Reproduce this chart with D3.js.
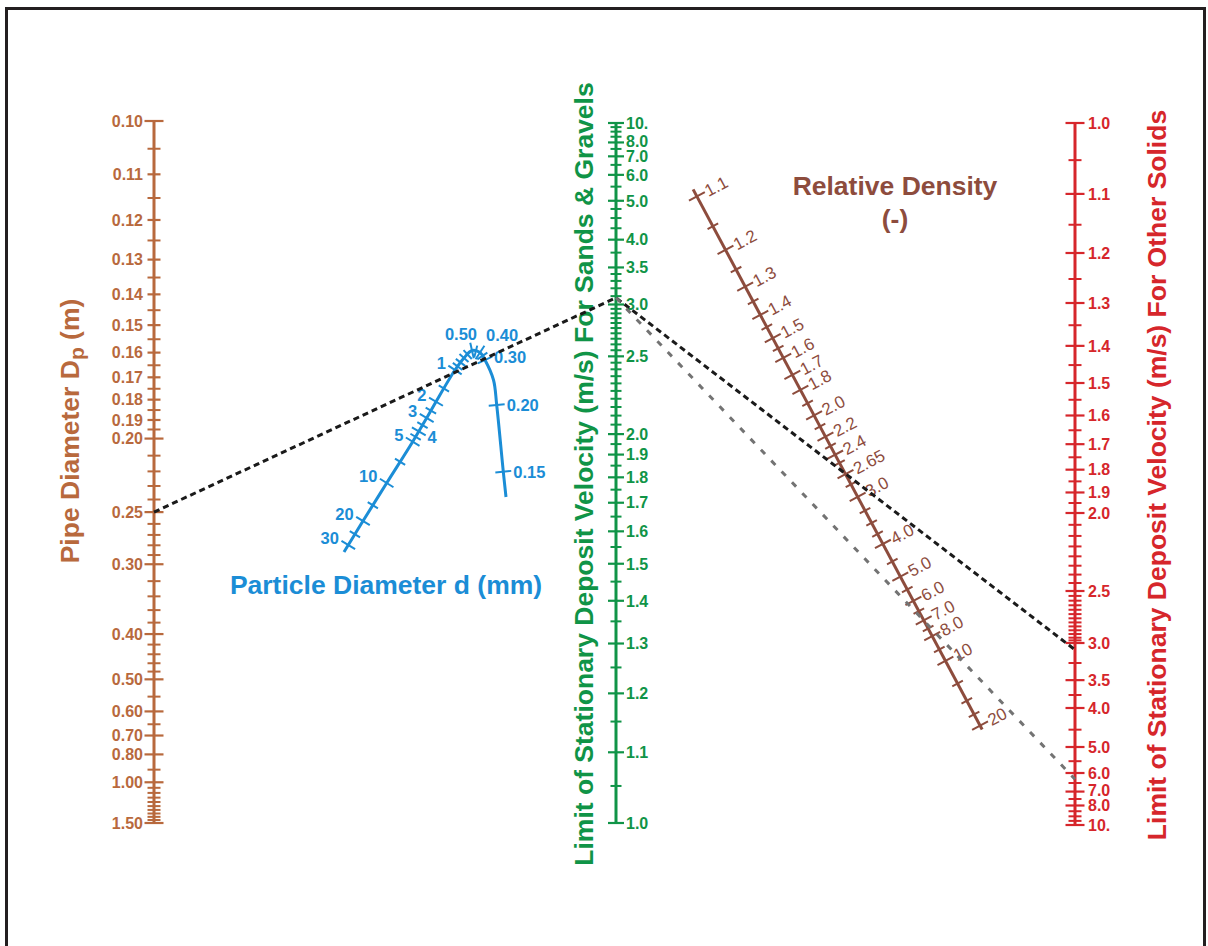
<!DOCTYPE html>
<html>
<head>
<meta charset="utf-8">
<script src="https://cdnjs.cloudflare.com/ajax/libs/d3/7.8.5/d3.min.js"></script>
<style>
  html, body { margin: 0; padding: 0; background: #ffffff; }
  svg { display: block; }
  text { font-family: Arial, "Liberation Sans", Helvetica, sans-serif; }
</style>
</head>
<body>
<svg id="chart" width="1208" height="946"></svg>
<script>
// ---------------- DATA ----------------
// Pipe diameter Dp (m)
const pipeTickValues = [0.10,0.11,0.12,0.13,0.14,0.15,0.16,0.17,0.18,0.19,0.20,0.25,0.30,0.40,0.50,0.60,0.70,0.80,1.00,1.50];
const pipeLongTicks  = [0.10,0.20,0.25,0.30,0.40,0.50,0.60,0.70,0.80,1.00,1.50];
const pipeMinorTicks = [0.105,0.115,0.125,0.135,0.145,0.155,0.165,0.175,0.185,0.195,
                        0.21,0.22,0.23,0.24,0.26,0.27,0.28,0.29,0.32,0.34,0.36,0.38,
                        0.42,0.44,0.46,0.48,0.55,0.65,0.90,1.05,1.10,1.15,1.20,1.25,1.30,1.35,1.40,1.45];

// Limit deposit velocity, sands & gravels (m/s)
const sandTickValues = [10,8,7,6,5,4,3.5,3,2.5,2,1.9,1.8,1.7,1.6,1.5,1.4,1.3,1.2,1.1,1.0];
const sandTickLabels = ["10.","8.0","7.0","6.0","5.0","4.0","3.5","3.0","2.5","2.0","1.9","1.8","1.7","1.6","1.5","1.4","1.3","1.2","1.1","1.0"];
const sandMinorTicks = [1.05,1.15,1.25,1.35,1.45,1.55,1.65,1.75,1.85,1.95,
                        2.05,2.1,2.15,2.2,2.25,2.3,2.35,2.4,2.45,2.55,2.6,2.65,2.7,2.75,2.8,2.85,2.9,2.95,
                        3.1,3.2,3.3,3.4,3.75,4.25,4.5,4.75,5.5,6.5,7.5,8.5,9,9.5];

// Limit deposit velocity, other solids (m/s)
const otherTickValues = [1.0,1.1,1.2,1.3,1.4,1.5,1.6,1.7,1.8,1.9,2.0,2.5,3.0,3.5,4.0,5.0,6.0,7.0,8.0,10];
const otherTickLabels = ["1.0","1.1","1.2","1.3","1.4","1.5","1.6","1.7","1.8","1.9","2.0","2.5","3.0","3.5","4.0","5.0","6.0","7.0","8.0","10."];
const otherMinorTicks = [1.05,1.15,1.25,1.35,1.45,1.55,1.65,1.75,1.85,1.95,
                         2.0625,2.125,2.1875,2.25,2.3125,2.375,2.4375,
                         2.54,2.58,2.62,2.66,2.70,2.74,2.78,2.82,2.86,2.90,2.94,2.97,
                         3.25,3.75,4.5,5.5,6.5,7.5,8.5,9,9.5];

// Relative density (-)
const densityTickValues = [1.1,1.2,1.3,1.4,1.5,1.6,1.7,1.8,2.0,2.2,2.4,2.65,3.0,4.0,5.0,6.0,7.0,8.0,10,20];
const densityTickLabels = ["1.1","1.2","1.3","1.4","1.5","1.6","1.7","1.8","2.0","2.2","2.4","2.65","3.0","4.0","5.0","6.0","7.0","8.0","10","20"];
const densityMinorTicks = [1.15,1.25,1.35,1.45,1.55,1.9,2.1,2.3,2.5,2.8,3.25,3.5,3.75,4.5,5.5,6.5,7.5,9,12.5,15,17.5];
const densityEnds = [1.09, 21];

// Particle diameter d (mm)
const particleTickValues = [30,20,10,5,4,3,2,1,0.5,0.4,0.3,0.2,0.15];
const particleTickLabels = ["30","20","10","5","4","3","2","1","0.50","0.40","0.30","0.20","0.15"];
const particleLabelSide  = ["L","L","L","L","R","L","L","L","TL","TR","R","R","R"];
const particleMinorTicks = [25,15,7,4.5,3.5,2.5,1.5,0.9,0.8,0.7,0.6,0.45,0.35];
const particleCurveValues = [0.14,0.15,0.2,0.25,0.3,0.4,0.5,0.7,1,2,3,5,10,20,30,33];

// Worked example (dashed lines)
const examplePipeD = 0.25;
const exampleSandV = 3.08;
const exampleOtherV = [3.08, 6.3];

// ---------------- LAYOUT / STYLE ----------------
const C = {
  pipe: "#b8693d",
  particle: "#1b8dd6",
  sand: "#109447",
  other: "#d6262b",
  density: "#8d4c3d",
  frame: "#231f20"
};
const TITLE = 26.5;
const svg = d3.select("#chart");

svg.append("rect")
  .attr("x", 6.5).attr("y", 8.5).attr("width", 1198).attr("height", 1000)
  .attr("fill", "none").attr("stroke", C.frame).attr("stroke-width", 3);

const pipeX = 154, sandX = 616, otherX = 1075;

// Nomogram scales
const pipeY  = d3.scalePow().exponent(-0.7).domain([0.10, 1.50]).range([121, 823]);
const sandY  = d3.scalePow().exponent(-1).domain([1, 10]).range([823, 123]);
const otherY = d3.scalePow().exponent(-1).domain([1, 10]).range([123, 825]);

// Relative density scale: lies on the line joining V=inf of both velocity scales
const ratioScale = d3.scalePow().exponent(0.55).domain([0, 1.65]).range([0, 1]);
const lamX = d3.scaleLinear().domain([0, 1]).range([sandX, otherX]);
const lamY = d3.scaleLinear().domain([0, 1]).range([sandY(Infinity), otherY(Infinity)]);
function densityPoint(S) {
  const r = ratioScale(S - 1);
  const lam = r / (1 + r);
  return [lamX(lam), lamY(lam)];
}

// Particle diameter curved scale
const particleX = d3.scaleLog()
  .domain([0.14,0.15,0.2,0.25,0.3,0.4,0.5,0.7,1,2,3,5,10,20,30,33])
  .range([506,503.3,496.7,493.5,485,480,472,464,455,436,426.7,412.7,386.7,363,348.3,344]);
const particleY = d3.scaleLog()
  .domain([0.14,0.15,0.2,0.25,0.3,0.4,0.5,0.7,1,2,3,5,10,20,30,33])
  .range([497,471.7,405,380,360,352.5,350.5,358,370,401.7,418,441.7,483,521,545,552]);

// keep crowded labels readable: spread label y positions with a minimum gap
function spreadLabels(ys, gap) {
  const idx = ys.map((y, i) => i).sort((a, b) => ys[a] - ys[b]);
  const out = ys.slice();
  for (let k = idx.length - 1; k > 0; k--) {
    const lo = idx[k - 1], hi = idx[k];
    if (out[hi] - out[lo] < gap) out[lo] = out[hi] - gap;
  }
  return out;
}

// ---------------- VERTICAL AXES ----------------
function verticalAxis(opts) {
  const g = svg.append("g");
  const [y0, y1] = opts.ends.map(opts.scale);
  g.append("line").attr("x1", opts.x).attr("x2", opts.x).attr("y1", y0).attr("y2", y1)
    .attr("stroke", opts.color).attr("stroke-width", 3);
  g.selectAll("line.minor").data(opts.minor).join("line").attr("class", "minor")
    .attr("x1", opts.x - opts.minorLen).attr("x2", opts.x + opts.minorLen)
    .attr("y1", d => opts.scale(d)).attr("y2", d => opts.scale(d))
    .attr("stroke", opts.color).attr("stroke-width", 2);
  g.selectAll("line.major").data(opts.values).join("line").attr("class", "major")
    .attr("x1", d => opts.x - opts.len(d)).attr("x2", d => opts.x + opts.len(d))
    .attr("y1", d => opts.scale(d)).attr("y2", d => opts.scale(d))
    .attr("stroke", opts.color).attr("stroke-width", 2.2);
  const ly = spreadLabels(opts.values.map(opts.scale), 15.5);
  g.selectAll("text").data(opts.values).join("text")
    .attr("x", opts.labelX).attr("y", (d, i) => ly[i]).attr("dy", "0.36em")
    .attr("text-anchor", opts.anchor)
    .attr("font-size", 16).attr("font-weight", "bold").attr("fill", opts.color)
    .text((d, i) => opts.labels[i]);
}

verticalAxis({
  x: pipeX, scale: pipeY, ends: [0.10, 1.50], color: C.pipe,
  values: pipeTickValues, labels: pipeTickValues.map(d3.format(".2f")),
  minor: pipeMinorTicks, minorLen: 6.5,
  len: d => pipeLongTicks.includes(d) ? 9.5 : 6.5,
  labelX: pipeX - 11, anchor: "end"
});
verticalAxis({
  x: sandX, scale: sandY, ends: [1, 10], color: C.sand,
  values: sandTickValues, labels: sandTickLabels,
  minor: sandMinorTicks, minorLen: 5.5, len: () => 8,
  labelX: sandX + 10, anchor: "start"
});
verticalAxis({
  x: otherX, scale: otherY, ends: [1, 10], color: C.other,
  values: otherTickValues, labels: otherTickLabels,
  minor: otherMinorTicks, minorLen: 6.5, len: () => 9.5,
  labelX: otherX + 13, anchor: "start"
});

// ---------------- RELATIVE DENSITY SCALE ----------------
{
  const g = svg.append("g");
  const pA = densityPoint(densityEnds[0]), pB = densityPoint(densityEnds[1]);
  const dx = pB[0] - pA[0], dy = pB[1] - pA[1], L = Math.hypot(dx, dy);
  const nx = dy / L, ny = -dx / L;           // normal pointing up-right
  const ang = Math.atan2(ny, nx) * 180 / Math.PI;
  g.append("line").attr("x1", pA[0]).attr("y1", pA[1]).attr("x2", pB[0]).attr("y2", pB[1])
    .attr("stroke", C.density).attr("stroke-width", 3);
  const tick = (sel, half) => sel
    .attr("x1", d => densityPoint(d)[0] - nx * half).attr("y1", d => densityPoint(d)[1] - ny * half)
    .attr("x2", d => densityPoint(d)[0] + nx * half).attr("y2", d => densityPoint(d)[1] + ny * half)
    .attr("stroke", C.density).attr("stroke-width", 2);
  tick(g.selectAll("line.minor").data(densityMinorTicks).join("line").attr("class", "minor"), 6);
  tick(g.selectAll("line.major").data(densityTickValues).join("line").attr("class", "major"), 9);
  g.selectAll("text").data(densityTickValues).join("text")
    .attr("transform", d => {
      const p = densityPoint(d);
      return `translate(${p[0] + nx * 10},${p[1] + ny * 10}) rotate(${ang})`;
    })
    .attr("dy", "0.36em").attr("text-anchor", "start")
    .attr("font-size", 17).attr("fill", C.density)
    .text((d, i) => densityTickLabels[i]);
  g.append("text").attr("x", 895).attr("y", 195).attr("text-anchor", "middle")
    .attr("font-size", TITLE).attr("font-weight", "bold").attr("fill", C.density).text("Relative Density");
  g.append("text").attr("x", 895).attr("y", 228).attr("text-anchor", "middle")
    .attr("font-size", TITLE).attr("font-weight", "bold").attr("fill", C.density).text("(-)");
}

// ---------------- PARTICLE DIAMETER CURVE ----------------
{
  const g = svg.append("g");
  const line = d3.line().x(d => particleX(d)).y(d => particleY(d)).curve(d3.curveCatmullRom.alpha(0.5));
  g.append("path").attr("d", line(particleCurveValues))
    .attr("fill", "none").attr("stroke", C.particle).attr("stroke-width", 3);
  function normalAt(d) {
    const e = 1.04;
    const ax = particleX(d / e), ay = particleY(d / e), bx = particleX(d * e), by = particleY(d * e);
    const L = Math.hypot(bx - ax, by - ay);
    return [-(by - ay) / L, (bx - ax) / L];
  }
  const tick = (sel, half) => sel.each(function (d) {
    const [nx, ny] = normalAt(d), x = particleX(d), y = particleY(d);
    d3.select(this).attr("x1", x - nx * half).attr("y1", y - ny * half)
      .attr("x2", x + nx * half).attr("y2", y + ny * half);
  }).attr("stroke", C.particle).attr("stroke-width", 2);
  tick(g.selectAll("line.minor").data(particleMinorTicks).join("line").attr("class", "minor"), 6);
  tick(g.selectAll("line.major").data(particleTickValues).join("line").attr("class", "major"), 8);
  g.selectAll("text.lbl").data(particleTickValues).join("text").attr("class", "lbl")
    .each(function (d, i) {
      let [nx, ny] = normalAt(d);
      const side = particleLabelSide[i], x = particleX(d), y = particleY(d);
      const t = d3.select(this);
      if (side === "L") {
        if (nx > 0) { nx = -nx; ny = -ny; }
        t.attr("x", x + nx * 11).attr("y", y + ny * 11 - 1).attr("text-anchor", "end");
      } else if (side === "R") {
        if (nx < 0) { nx = -nx; ny = -ny; }
        t.attr("x", x + nx * 10).attr("y", y + ny * 10 + 1).attr("text-anchor", "start");
      } else if (side === "TL") {
        t.attr("x", x + 5).attr("y", y - 16).attr("text-anchor", "end");
      } else {
        t.attr("x", x + 6).attr("y", y - 17).attr("text-anchor", "start");
      }
    })
    .attr("dy", "0.36em").attr("font-size", 16.5).attr("font-weight", "bold").attr("fill", C.particle)
    .text((d, i) => particleTickLabels[i]);
  g.append("text").attr("x", 386).attr("y", 594).attr("text-anchor", "middle")
    .attr("font-size", TITLE).attr("font-weight", "bold").attr("fill", C.particle)
    .text("Particle Diameter d (mm)");
}

// ---------------- AXIS TITLES ----------------
{
  const t = svg.append("text").attr("transform", "translate(70,431) rotate(-90)")
    .attr("text-anchor", "middle").attr("dominant-baseline", "central")
    .attr("font-size", TITLE).attr("font-weight", "bold").attr("fill", C.pipe);
  t.append("tspan").text("Pipe Diameter D");
  t.append("tspan").attr("dy", 6).attr("font-size", 21).text("p");
  t.append("tspan").attr("dy", -6).text(" (m)");

  svg.append("text").attr("transform", "translate(584,474) rotate(-90)")
    .attr("text-anchor", "middle").attr("dominant-baseline", "central")
    .attr("font-size", TITLE).attr("font-weight", "bold").attr("fill", C.sand)
    .text("Limit of Stationary Deposit Velocity (m/s) For Sands & Gravels");

  svg.append("text").attr("transform", "translate(1157,475) rotate(-90)")
    .attr("text-anchor", "middle").attr("dominant-baseline", "central")
    .attr("font-size", TITLE).attr("font-weight", "bold").attr("fill", C.other)
    .text("Limit of Stationary Deposit Velocity (m/s) For Other Solids");
}

// ---------------- WORKED EXAMPLE ----------------
{
  const line = d3.line();
  svg.append("path")
    .attr("d", line([[pipeX, pipeY(examplePipeD)], [sandX, sandY(exampleSandV)], [otherX, otherY(exampleOtherV[0])]]))
    .attr("fill", "none").attr("stroke", "#1a1a1a").attr("stroke-width", 3).attr("stroke-dasharray", "6,4");
  svg.append("path")
    .attr("d", line([[sandX, sandY(exampleSandV)], [otherX, otherY(exampleOtherV[1])]]))
    .attr("fill", "none").attr("stroke", "#737373").attr("stroke-width", 3).attr("stroke-dasharray", "6,9");
}
</script>
</body>
</html>
